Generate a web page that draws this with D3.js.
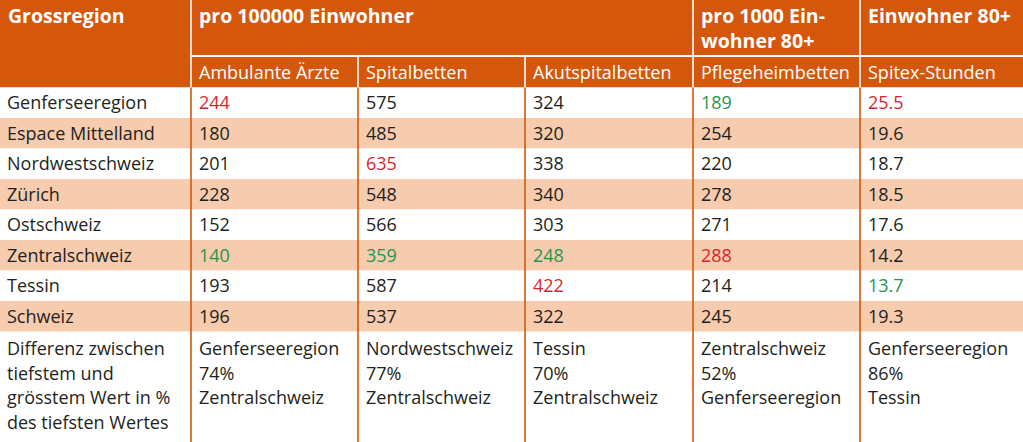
<!DOCTYPE html>
<html><head><meta charset="utf-8">
<script src="https://cdn.jsdelivr.net/npm/d3@7"></script>
<style>html,body{margin:0;padding:0;background:#fff;overflow:hidden}</style>
</head><body>
<svg id="c" width="1023" height="442"></svg>
<script>
// ---- data ----
const regions = ["Genferseeregion","Espace Mittelland","Nordwestschweiz","Zürich","Ostschweiz","Zentralschweiz","Tessin","Schweiz"];
const columns = ["Ambulante Ärzte","Spitalbetten","Akutspitalbetten","Pflegeheimbetten","Spitex-Stunden"];
const groupHeaders = [
  {label:["Grossregion"], from:0, to:0},
  {label:["pro 100000 Einwohner"], from:1, to:3},
  {label:["pro 1000 Ein-","wohner 80+"], from:4, to:4},
  {label:["Einwohner 80+"], from:5, to:5}
];
const ambulanteAerzte = [244,180,201,228,152,140,193,196];
const spitalbetten = [575,485,635,548,566,359,587,537];
const akutspitalbetten = [324,320,338,340,303,248,422,322];
const pflegeheimbetten = [189,254,220,278,271,288,214,245];
const spitexStunden = [25.5,19.6,18.7,18.5,17.6,14.2,13.7,19.3];
const series = [ambulanteAerzte, spitalbetten, akutspitalbetten, pflegeheimbetten, spitexStunden];
const decimals = [0,0,0,0,1];
const footLabel = ["Differenz zwischen","tiefstem und","grösstem Wert in %","des tiefsten Wertes"];
const footHigh = ["Genferseeregion","Nordwestschweiz","Tessin","Zentralschweiz","Genferseeregion"];
const footPct = ["74%","77%","70%","52%","86%"];
const footLow = ["Zentralschweiz","Zentralschweiz","Zentralschweiz","Genferseeregion","Tessin"];

// ---- layout ----
const W = 1023, H = 442;
const edges = [0,191,358,525,693,860,1023];
const ORANGE = "#d4570b", PEACH = "#f6cbae", TEXT = "#231f20", RED = "#dc1f2b", GREEN = "#1f9650";
const FONT = "'Open Sans', sans-serif";
const FS = 18, FSB = 19.5;
const h1 = 55, h2top = 57, hBottom = 87.5, dataBottom = 331.5;

const svg = d3.select("#c");
const colX = i => edges[i];

const y = d3.scaleBand().domain(d3.range(regions.length)).range([hBottom, dataBottom]);

// header background
svg.append("rect").attr("x",0).attr("y",0).attr("width",W).attr("height",hBottom).attr("fill",ORANGE);

// alternating row backgrounds
svg.selectAll("rect.row").data(regions).join("rect").attr("class","row")
  .attr("x",0).attr("y",(d,i)=>y(i)).attr("width",W).attr("height",y.bandwidth())
  .attr("fill",(d,i)=> i%2 ? PEACH : "#fff");

// header white lines
svg.append("line").attr("x1",edges[1]).attr("x2",W).attr("y1",(h1+h2top)/2).attr("y2",(h1+h2top)/2)
  .attr("stroke","#fff").attr("stroke-width",2);
[1,4,5].forEach(i=> svg.append("line").attr("x1",edges[i]).attr("x2",edges[i]).attr("y1",0).attr("y2",hBottom)
  .attr("stroke","#fff").attr("stroke-width",1.6));
[2,3].forEach(i=> svg.append("line").attr("x1",edges[i]).attr("x2",edges[i]).attr("y1",h2top).attr("y2",hBottom)
  .attr("stroke","#fff").attr("stroke-width",1.6));

// body orange vertical lines
d3.range(1,6).forEach(i=> svg.append("line").attr("x1",edges[i]).attr("x2",edges[i]).attr("y1",hBottom).attr("y2",H)
  .attr("stroke",ORANGE).attr("stroke-width",1.6));

// group headers
groupHeaders.forEach(g=>{
  const t = svg.append("text").attr("x",colX(g.from)+8).attr("y",23)
    .attr("font-family",FONT).attr("font-weight",700).attr("font-size",FSB).attr("fill","#fff");
  g.label.forEach((l,k)=> t.append("tspan").attr("x",colX(g.from)+8).attr("y",23+k*25).text(l));
});

// sub headers
columns.forEach((c,i)=> svg.append("text").attr("x",colX(i+1)+8).attr("y",79)
  .attr("font-family",FONT).attr("font-size",FS).attr("fill","#fff").text(c));

// region names
svg.selectAll("text.reg").data(regions).join("text").attr("class","reg")
  .attr("x",7).attr("y",(d,i)=>y(i)+y.bandwidth()/2+6.5)
  .attr("font-family",FONT).attr("font-size",FS).attr("fill",TEXT).text(d=>d);

// values
series.forEach((vals,ci)=>{
  const regVals = vals.slice(0, regions.length-1);
  const mx = d3.max(regVals), mn = d3.min(regVals);
  svg.selectAll("text.v"+ci).data(vals).join("text").attr("class","v"+ci)
    .attr("x",colX(ci+1)+8).attr("y",(d,i)=>y(i)+y.bandwidth()/2+6.5)
    .attr("font-family",FONT).attr("font-size",FS)
    .attr("fill",(d,i)=> i===regions.length-1 ? TEXT : d===mx ? RED : d===mn ? GREEN : TEXT)
    .text(d=>d.toFixed(decimals[ci]));
});

// footer
const fy0 = 355, fdy = 24.5;
const ft = svg.append("text").attr("font-family",FONT).attr("font-size",FS).attr("fill",TEXT);
footLabel.forEach((l,k)=> ft.append("tspan").attr("x",7).attr("y",fy0+k*fdy).text(l));
columns.forEach((c,i)=>{
  const t = svg.append("text").attr("font-family",FONT).attr("font-size",FS).attr("fill",TEXT);
  [footHigh[i], footPct[i], footLow[i]].forEach((l,k)=> t.append("tspan").attr("x",colX(i+1)+8).attr("y",fy0+k*fdy).text(l));
});
</script>
</body></html>
